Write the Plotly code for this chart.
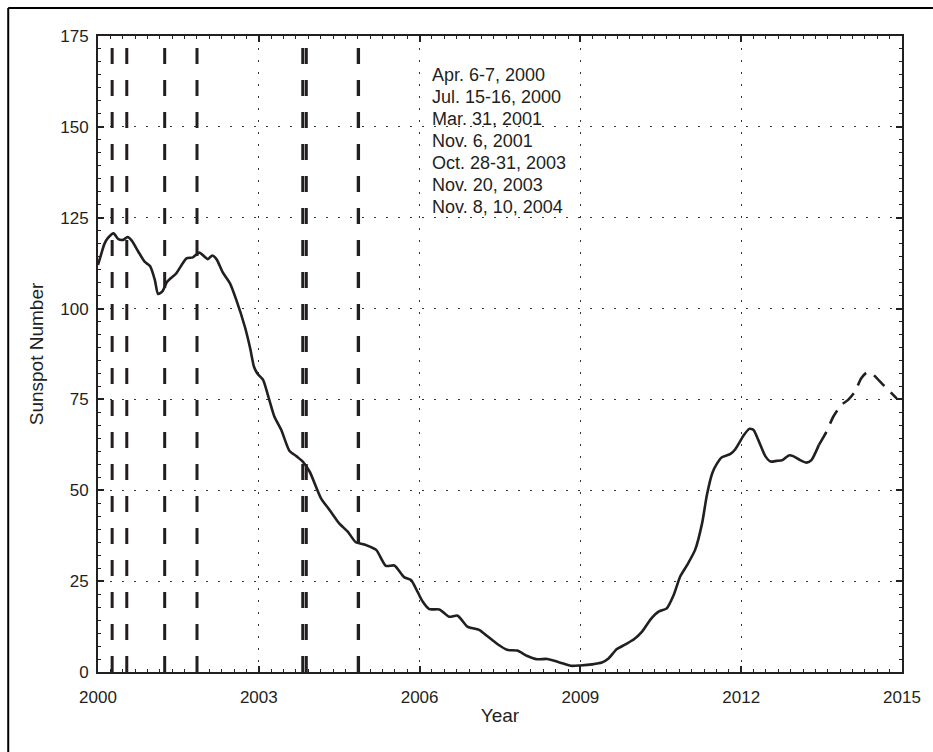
import plotly.graph_objects as go

# ---- data ----
years_obs = [2000.00, 2000.06, 2000.12, 2000.19, 2000.29, 2000.38, 2000.47, 2000.55, 2000.63,
             2000.75, 2000.87, 2000.97, 2001.06, 2001.12, 2001.20, 2001.29, 2001.46, 2001.65,
             2001.77, 2001.89, 2002.05, 2002.13, 2002.21, 2002.33, 2002.46, 2002.58, 2002.74,
             2002.84, 2002.91, 2002.98, 2003.08, 2003.17, 2003.29, 2003.42, 2003.57, 2003.70,
             2003.82, 2003.95, 2004.16, 2004.32, 2004.50, 2004.66, 2004.81, 2004.97, 2005.19,
             2005.37, 2005.53, 2005.71, 2005.84, 2005.96, 2006.06, 2006.18, 2006.37, 2006.55,
             2006.71, 2006.89, 2007.11, 2007.26, 2007.45, 2007.63, 2007.82, 2008.01, 2008.19,
             2008.38, 2008.60, 2008.82, 2009.00, 2009.22, 2009.40, 2009.53, 2009.68, 2009.84,
             2010.00, 2010.15, 2010.31, 2010.46, 2010.61, 2010.74, 2010.86, 2010.99, 2011.14,
             2011.27, 2011.36, 2011.46, 2011.55, 2011.64, 2011.80, 2011.89, 2012.05, 2012.15,
             2012.23, 2012.32, 2012.45, 2012.55, 2012.66, 2012.77, 2012.89, 2012.97, 2013.10,
             2013.22, 2013.31, 2013.45]
sunspots_obs = [112.0, 115.0, 117.8, 119.5, 120.7, 119.1, 118.9, 119.7, 118.7,
                115.7, 112.9, 111.7, 107.9, 104.0, 104.7, 107.4, 109.7, 113.8,
                114.1, 115.4, 113.6, 114.6, 113.6, 109.9, 107.0, 102.4, 95.0,
                89.0, 84.0, 82.0, 80.4, 76.2, 70.3, 66.6, 60.9, 59.4,
                57.9, 55.1, 47.8, 44.6, 40.9, 38.6, 35.7, 35.1, 33.6,
                29.2, 29.3, 26.1, 25.3, 22.1, 19.3, 17.3, 17.2, 15.2,
                15.5, 12.5, 11.6, 9.9, 7.7, 6.1, 5.9, 4.4, 3.5,
                3.6, 2.7, 1.7, 1.8, 2.1, 2.6, 3.8, 6.3, 7.6,
                9.0, 11.1, 14.5, 16.6, 17.5, 21.2, 26.2, 29.4, 33.6,
                40.9, 48.7, 54.7, 57.4, 59.1, 60.0, 61.3, 65.2, 66.9,
                66.6, 63.8, 59.4, 57.9, 58.1, 58.3, 59.6, 59.4, 58.3,
                57.6, 58.3, 62.5]

years_pred = [2013.45, 2013.59, 2013.72, 2013.87, 2013.99, 2014.12, 2014.24, 2014.34,
              2014.43, 2014.65, 2014.90]
sunspots_pred = [62.5, 66.1, 70.3, 73.5, 74.8, 77.1, 80.8, 82.4, 82.2, 79.0, 75.3]

event_dates = [2000.264, 2000.537, 2001.244, 2001.847, 2003.82, 2003.886, 2004.855, 2004.861]
event_labels = ["Apr. 6-7, 2000", "Jul. 15-16, 2000", "Mar. 31, 2001", "Nov. 6, 2001",
                "Oct. 28-31, 2003", "Nov. 20, 2003", "Nov. 8, 10, 2004"]

x_ticks = [2000, 2003, 2006, 2009, 2012, 2015]
y_ticks = [0, 25, 50, 75, 100, 125, 150, 175]

INK = "#231f20"
FONT = "Liberation Sans, Arial, Helvetica, sans-serif"

L, R, T, B = 98, 29, 36, 80
W, H = 933, 752
pw, ph = W - L - R, H - T - B

fig = go.Figure()

# event lines (drawn bottom -> top)
for d in event_dates:
    fig.add_shape(type="line", xref="x", yref="y", x0=d, x1=d, y0=0, y1=175,
                  line=dict(color=INK, width=3, dash="16px,16px"), layer="above")

fig.add_trace(go.Scatter(x=years_obs, y=sunspots_obs, mode="lines",
                         line=dict(color=INK, width=2.6, shape="spline", smoothing=0.6),
                         showlegend=False, hoverinfo="skip"))
fig.add_trace(go.Scatter(x=years_pred, y=sunspots_pred, mode="lines",
                         line=dict(color=INK, width=2.6, dash="15px,9px",
                                   shape="spline", smoothing=0.6),
                         showlegend=False, hoverinfo="skip"))

# event list text, one line per annotation
units_per_px = 175 / ph
first_center_px = 74.5
line_step_px = 22
for i, lab in enumerate(event_labels):
    ypx = first_center_px + i * line_step_px
    fig.add_annotation(x=2006.2, y=(H - B - ypx) * units_per_px, xref="x", yref="y",
                       xanchor="left", yanchor="middle", text=lab, showarrow=False,
                       align="left", font=dict(family=FONT, size=18, color=INK))

# outer frame (top and left edges)
px = lambda p: (p - L) / pw
py = lambda p: (H - B - p) / ph
fig.add_shape(type="line", xref="paper", yref="paper", x0=px(8), x1=px(935), y0=py(8), y1=py(8),
              line=dict(color="black", width=2))
fig.add_shape(type="line", xref="paper", yref="paper", x0=px(8), x1=px(8), y0=py(8), y1=py(760),
              line=dict(color="black", width=2))

axis_common = dict(showline=True, linecolor=INK, linewidth=2, mirror="allticks",
                   ticks="inside", ticklen=6, tickwidth=1.5, tickcolor=INK,
                   showgrid=True, gridcolor="#333333", gridwidth=1.4, griddash="2px,10px",
                   zeroline=False, tickfont=dict(family=FONT, size=17, color=INK))

fig.update_xaxes(range=[2000, 2015], tickvals=x_ticks, ticktext=[str(v) for v in x_ticks],
                 title=dict(text="Year", font=dict(family=FONT, size=19, color=INK), standoff=2),
                 ticklabelstandoff=9,
                 minor=dict(ticks="inside", ticklen=3, tickwidth=1, tickcolor=INK,
                            tick0=2000, dtick=3 / 13, showgrid=False),
                 **axis_common)
fig.update_yaxes(range=[0, 175], tickvals=y_ticks, ticktext=[str(v) for v in y_ticks],
                 title=dict(text="Sunspot Number", font=dict(family=FONT, size=19, color=INK),
                            standoff=12),
                 ticklabelstandoff=4,
                 minor=dict(ticks="inside", ticklen=3, tickwidth=1, tickcolor=INK,
                            tick0=0, dtick=25 / 7, showgrid=False),
                 **axis_common)

fig.update_layout(width=W, height=H, margin=dict(l=L, r=R, t=T, b=B),
                  plot_bgcolor="white", paper_bgcolor="white", showlegend=False,
                  font=dict(family=FONT, color=INK))

fig.write_html("out.html")
